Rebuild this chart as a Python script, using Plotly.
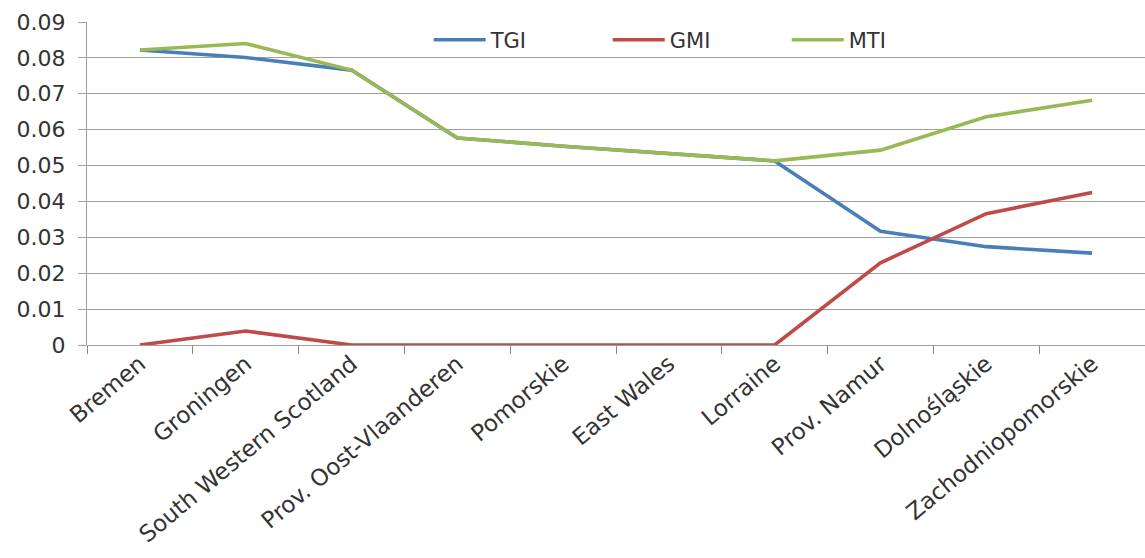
import plotly.graph_objects as go

categories = ["Bremen", "Groningen", "South Western Scotland", "Prov. Oost-Vlaanderen",
              "Pomorskie", "East Wales", "Lorraine", "Prov. Namur", "Dolnośląskie",
              "Zachodniopomorskie"]
tgi = [0.0822, 0.0801, 0.0766, 0.0577, 0.0554, 0.0534, 0.0513, 0.0317, 0.0274, 0.0256]
gmi = [0.0, 0.0039, 0.0, 0.0, 0.0, 0.0, 0.0, 0.0229, 0.0366, 0.0425]
mti = [0.0822, 0.0840, 0.0766, 0.0577, 0.0554, 0.0534, 0.0513, 0.0543, 0.0636, 0.0682]
y_ticks = [0, 0.01, 0.02, 0.03, 0.04, 0.05, 0.06, 0.07, 0.08, 0.09]
y_tick_text = ["0", "0.01", "0.02", "0.03", "0.04", "0.05", "0.06", "0.07", "0.08", "0.09"]

series = [("TGI", tgi, "#4A7EBB"), ("GMI", gmi, "#BE4B48"), ("MTI", mti, "#98B954")]

fig = go.Figure()
for name, vals, color in series:
    fig.add_trace(go.Scatter(x=categories, y=vals, name=name, mode="lines",
                             line=dict(color=color, width=3.6)))

font_family = "DejaVu Sans, sans-serif"
fig.update_layout(
    width=1145, height=558,
    margin=dict(l=87, r=0, t=22, b=213),
    paper_bgcolor="white", plot_bgcolor="white",
    font=dict(family=font_family, size=20, color="#333333"),
    showlegend=True,
    legend=dict(orientation="h", x=0.323, xanchor="left", y=0.944, yanchor="middle",
                bgcolor="rgba(0,0,0,0)", font=dict(size=21, color="#333333"),
                entrywidth=112, entrywidthmode="pixels", itemwidth=52),
)
fig.update_xaxes(
    type="category", tickangle=-40, showgrid=False,
    showline=False, ticks="outside", ticklen=8, tickcolor="#888888",
    tickson="boundaries", tickfont=dict(size=23, color="#333333"),
    range=[-0.5, len(categories) - 0.5], zeroline=False,
)
fig.update_yaxes(
    range=[0, 0.09], tickvals=y_ticks, ticktext=y_tick_text,
    showgrid=True, gridcolor="#A0A0A0", gridwidth=1,
    showline=True, linecolor="#A0A0A0", linewidth=1,
    ticks="outside", ticklen=8, tickcolor="#A0A0A0",
    zeroline=True, zerolinecolor="#A0A0A0", zerolinewidth=1,
    tickfont=dict(size=22, color="#333333"), ticklabelstandoff=8,
)

fig.write_html("out.html")
